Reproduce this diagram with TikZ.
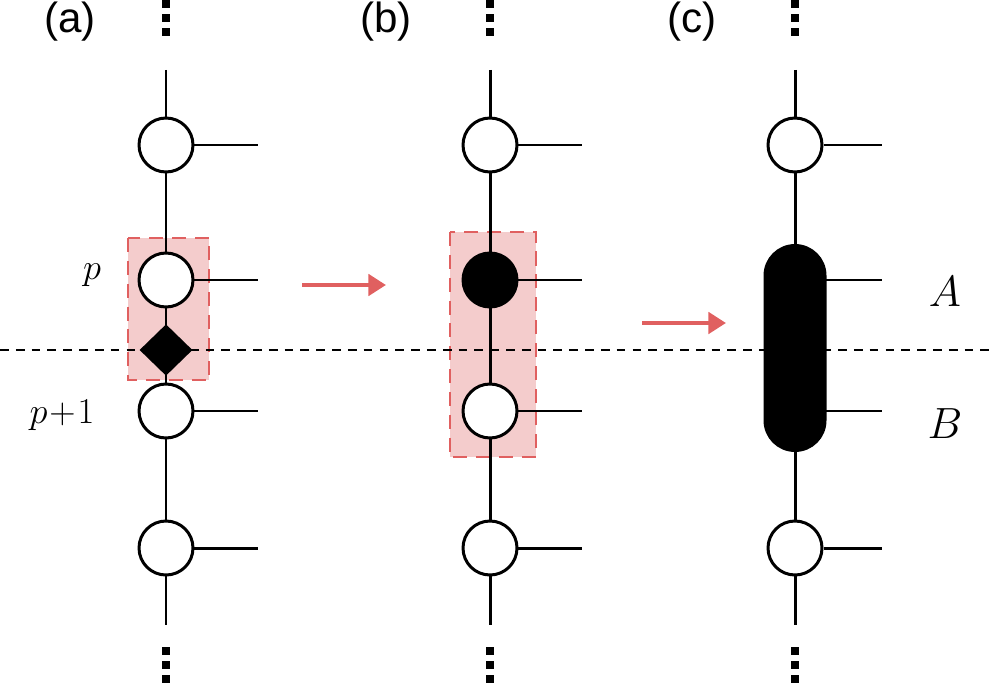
\documentclass[tikz,border=0pt]{standalone}
\usepackage{fontspec}
\newfontfamily\sansf{Liberation Sans}
\usetikzlibrary{shapes.geometric,arrows.meta}
\definecolor{rd}{RGB}{224,96,96}
\definecolor{rdf}{RGB}{244,204,204}
\begin{document}
\begin{tikzpicture}[x=0.02cm,y=-0.02cm,line width=1.7pt,
 site/.style={circle,draw,fill=white,minimum size=1.08cm,inner sep=0pt},
 fsite/.style={circle,draw,fill=black,minimum size=1.08cm,inner sep=0pt},
 box/.style={draw=rd,fill=rdf,dashed,dash pattern=on 8pt off 5pt,line width=1.4pt},
 arr/.style={rd,line width=2.5pt,-{Triangle[length=10pt,width=12pt]}},
 dot/.style={fill=black,minimum size=5pt,inner sep=0pt}]
\useasboundingbox (0,0) rectangle (996,686);
\draw[box] (128,238) rectangle (209,380);
\draw[box] (450,232) rectangle (536,457);
\draw[line width=1.2pt,dash pattern=on 5pt off 4pt] (0,350) -- (996,350);
% vertical lines
\foreach \x in {166,490,795}{
 \draw (\x,70) -- (\x,625);
 \foreach \y/\n in {4/a,18/b,32/c,651/d,665/e,679/f}
   \node[dot] at (\x,\y) {};
}
% column a
\node[site] (a1) at (166,145) {};
\node[site] (a2) at (166,280) {};
\node[diamond,fill=black,minimum width=1.08cm,minimum height=1.05cm,inner sep=0pt] (ad) at (166,350) {};
\node[site] (a3) at (166,411) {};
\node[site] (a4) at (166,548) {};
\foreach \n/\y in {a1/145,a2/280,a3/411,a4/548} \draw (\n.east) -- (258,\y);
% column b
\node[site] (b1) at (490,145) {};
\node[fsite] (b2) at (490,280) {};
\node[site] (b3) at (490,411) {};
\node[site] (b4) at (490,548) {};
\foreach \n/\y in {b1/145,b2/280,b3/411,b4/548} \draw (\n.east) -- (582,\y);
% column c
\node[site] (c1) at (795,145) {};
\node[draw,fill=black,rounded corners=0.6cm,minimum width=1.2cm,minimum height=4.1cm,inner sep=0pt] (cp) at (795,348) {};
\node[site] (c4) at (795,548) {};
\draw (c1.east) -- (882,145);
\draw (c4.east) -- (882,548);
\draw (825,280) -- (882,280);
\draw (825,411) -- (882,411);
% arrows
\coordinate (s1) at (302,285); \coordinate (e1) at (386,285);
\coordinate (s2) at (642,323); \coordinate (e2) at (726,323);
\draw[arr] (s1) -- (e1);
\draw[arr] (s2) -- (e2);
% labels
\node[font=\sansf\fontsize{24}{28}\selectfont] (la) at (70,22) {(a)};
\node[font=\sansf\fontsize{24}{28}\selectfont] (lb) at (386,22) {(b)};
\node[font=\sansf\fontsize{24}{28}\selectfont] (lc) at (692,22) {(c)};
\node[font=\fontsize{20}{24}\selectfont] (lp) at (92,275) {$p$};
\node[font=\fontsize{20}{24}\selectfont] (lp1) at (62,415) {$p\!+\!1$};
\node[font=\fontsize{29}{34}\selectfont] (lA) at (945,292) {$A$};
\node[font=\fontsize{29}{34}\selectfont] (lB) at (945,424) {$B$};
\end{tikzpicture}
\end{document}
